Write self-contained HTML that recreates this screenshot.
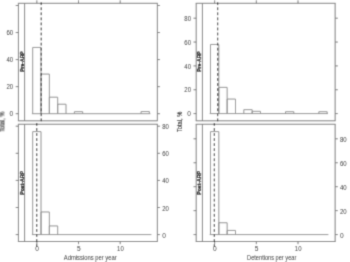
<!DOCTYPE html><html><head><meta charset="utf-8"><style>html,body{margin:0;padding:0;background:#fff;overflow:hidden;}svg{display:block;font-family:"Liberation Sans",sans-serif;}</style></head><body>
<svg width="350" height="262" viewBox="0 0 350 262">
<defs><filter id="bl" filterUnits="userSpaceOnUse" x="0" y="0" width="350" height="262"><feConvolveMatrix order="3" kernelMatrix="0.0256 0.1088 0.0256 0.1088 0.4624 0.1088 0.0256 0.1088 0.0256" divisor="1" preserveAlpha="false" edgeMode="duplicate"/></filter></defs>
<rect width="350" height="262" fill="#fff"/>
<g filter="url(#bl)">
<rect width="350" height="262" fill="#fff"/>
<line x1="17.90" y1="3.30" x2="157.85" y2="3.30" stroke="#777777" stroke-width="1.0" />
<line x1="17.90" y1="120.80" x2="157.85" y2="120.80" stroke="#777777" stroke-width="1.0" />
<line x1="18.40" y1="3.30" x2="18.40" y2="120.80" stroke="#777777" stroke-width="1.0" />
<line x1="157.35" y1="3.30" x2="157.35" y2="120.80" stroke="#777777" stroke-width="1.0" />
<line x1="24.60" y1="3.30" x2="24.60" y2="120.80" stroke="#777777" stroke-width="1.0" />
<line x1="15.70" y1="113.70" x2="18.40" y2="113.70" stroke="#777777" stroke-width="1.0" />
<line x1="157.35" y1="113.70" x2="160.05" y2="113.70" stroke="#777777" stroke-width="1.0" />
<line x1="15.70" y1="86.65" x2="18.40" y2="86.65" stroke="#777777" stroke-width="1.0" />
<line x1="157.35" y1="86.65" x2="160.05" y2="86.65" stroke="#777777" stroke-width="1.0" />
<line x1="15.70" y1="59.60" x2="18.40" y2="59.60" stroke="#777777" stroke-width="1.0" />
<line x1="157.35" y1="59.60" x2="160.05" y2="59.60" stroke="#777777" stroke-width="1.0" />
<line x1="15.70" y1="32.55" x2="18.40" y2="32.55" stroke="#777777" stroke-width="1.0" />
<line x1="157.35" y1="32.55" x2="160.05" y2="32.55" stroke="#777777" stroke-width="1.0" />
<line x1="15.70" y1="5.50" x2="18.40" y2="5.50" stroke="#777777" stroke-width="1.0" />
<line x1="157.35" y1="5.50" x2="160.05" y2="5.50" stroke="#777777" stroke-width="1.0" />
<text x="13.20" y="116.00" font-size="6.6" text-anchor="end" fill="#262626" font-weight="normal">0</text>
<text x="13.20" y="89.00" font-size="6.6" text-anchor="end" fill="#262626" font-weight="normal" textLength="6.70" lengthAdjust="spacingAndGlyphs">20</text>
<text x="13.20" y="62.00" font-size="6.6" text-anchor="end" fill="#262626" font-weight="normal" textLength="6.70" lengthAdjust="spacingAndGlyphs">40</text>
<text x="13.20" y="35.00" font-size="6.6" text-anchor="end" fill="#262626" font-weight="normal" textLength="6.70" lengthAdjust="spacingAndGlyphs">60</text>
<line x1="36.85" y1="3.30" x2="36.85" y2="0.40" stroke="#777777" stroke-width="1.0" />
<line x1="78.53" y1="3.30" x2="78.53" y2="0.40" stroke="#777777" stroke-width="1.0" />
<line x1="120.20" y1="3.30" x2="120.20" y2="0.40" stroke="#777777" stroke-width="1.0" />
<g stroke="#8e8e8e" stroke-width="1" fill="none">
<line x1="31.88" y1="113.70" x2="150.40" y2="113.70" stroke="#8e8e8e" stroke-width="1.0" />
<path d="M32.68 113.70V47.43H41.02V113.70" />
<path d="M41.02 113.70V74.07H49.35V113.70" />
<path d="M49.35 113.70V97.20H57.69V113.70" />
<path d="M57.69 113.70V104.23H66.02V113.70" />
<path d="M74.36 113.70V111.67H82.69V113.70" />
<path d="M141.04 113.70V111.54H149.37V113.70" />
</g>
<line x1="41.20" y1="2.30" x2="41.20" y2="121.30" stroke="#111111" stroke-width="1.0" stroke-dasharray="2.8 2.25" stroke-dashoffset="0"/>
<text x="24.30" y="61.55" font-size="5.0" text-anchor="middle" fill="#000" font-weight="bold" textLength="20.50" lengthAdjust="spacingAndGlyphs" stroke="#000" stroke-width="0.25" transform="rotate(-90 24.30 61.55)">Pre-ARP</text>
<line x1="17.90" y1="124.26" x2="157.85" y2="124.26" stroke="#777777" stroke-width="1.0" />
<line x1="17.90" y1="241.50" x2="157.85" y2="241.50" stroke="#777777" stroke-width="1.0" />
<line x1="18.40" y1="124.26" x2="18.40" y2="241.50" stroke="#777777" stroke-width="1.0" />
<line x1="157.35" y1="124.26" x2="157.35" y2="241.50" stroke="#777777" stroke-width="1.0" />
<line x1="24.60" y1="124.26" x2="24.60" y2="241.50" stroke="#777777" stroke-width="1.0" />
<line x1="15.70" y1="234.60" x2="18.40" y2="234.60" stroke="#777777" stroke-width="1.0" />
<line x1="157.35" y1="234.60" x2="160.05" y2="234.60" stroke="#777777" stroke-width="1.0" />
<line x1="15.70" y1="207.50" x2="18.40" y2="207.50" stroke="#777777" stroke-width="1.0" />
<line x1="157.35" y1="207.50" x2="160.05" y2="207.50" stroke="#777777" stroke-width="1.0" />
<line x1="15.70" y1="180.40" x2="18.40" y2="180.40" stroke="#777777" stroke-width="1.0" />
<line x1="157.35" y1="180.40" x2="160.05" y2="180.40" stroke="#777777" stroke-width="1.0" />
<line x1="15.70" y1="153.30" x2="18.40" y2="153.30" stroke="#777777" stroke-width="1.0" />
<line x1="157.35" y1="153.30" x2="160.05" y2="153.30" stroke="#777777" stroke-width="1.0" />
<line x1="15.70" y1="126.20" x2="18.40" y2="126.20" stroke="#777777" stroke-width="1.0" />
<line x1="157.35" y1="126.20" x2="160.05" y2="126.20" stroke="#777777" stroke-width="1.0" />
<text x="162.15" y="238.00" font-size="6.6" text-anchor="start" fill="#262626" font-weight="normal">0</text>
<text x="162.15" y="211.00" font-size="6.6" text-anchor="start" fill="#262626" font-weight="normal" textLength="6.70" lengthAdjust="spacingAndGlyphs">20</text>
<text x="162.15" y="183.00" font-size="6.6" text-anchor="start" fill="#262626" font-weight="normal" textLength="6.70" lengthAdjust="spacingAndGlyphs">40</text>
<text x="162.15" y="156.00" font-size="6.6" text-anchor="start" fill="#262626" font-weight="normal" textLength="6.70" lengthAdjust="spacingAndGlyphs">60</text>
<text x="162.15" y="129.00" font-size="6.6" text-anchor="start" fill="#262626" font-weight="normal" textLength="6.70" lengthAdjust="spacingAndGlyphs">80</text>
<line x1="36.85" y1="241.50" x2="36.85" y2="244.20" stroke="#777777" stroke-width="1.0" />
<line x1="78.53" y1="241.50" x2="78.53" y2="244.20" stroke="#777777" stroke-width="1.0" />
<line x1="120.20" y1="241.50" x2="120.20" y2="244.20" stroke="#777777" stroke-width="1.0" />
<text x="37.05" y="250.60" font-size="6.6" text-anchor="middle" fill="#262626" font-weight="normal">0</text>
<text x="78.73" y="250.60" font-size="6.6" text-anchor="middle" fill="#262626" font-weight="normal">5</text>
<text x="120.40" y="250.60" font-size="6.6" text-anchor="middle" fill="#262626" font-weight="normal" textLength="6.70" lengthAdjust="spacingAndGlyphs">10</text>
<g stroke="#8e8e8e" stroke-width="1" fill="none">
<line x1="31.88" y1="234.60" x2="151.40" y2="234.60" stroke="#8e8e8e" stroke-width="1.0" />
<path d="M32.68 234.60V131.62H41.02V234.60" />
<path d="M41.02 234.60V211.97H49.35V234.60" />
<path d="M49.35 234.60V225.93H57.69V234.60" />
</g>
<line x1="36.75" y1="123.00" x2="36.75" y2="247.50" stroke="#111111" stroke-width="1.0" stroke-dasharray="2.8 2.25" stroke-dashoffset="0"/>
<text x="24.30" y="182.88" font-size="5.0" text-anchor="middle" fill="#000" font-weight="bold" textLength="23.70" lengthAdjust="spacingAndGlyphs" stroke="#000" stroke-width="0.25" transform="rotate(-90 24.30 182.88)">Post-ARP</text>
<text x="63.80" y="259.80" font-size="6.3" text-anchor="start" fill="#262626" font-weight="normal" textLength="52.80" lengthAdjust="spacingAndGlyphs">Admissions per year</text>
<text x="4.40" y="121.90" font-size="6.6" text-anchor="middle" fill="#1a1a1a" font-weight="normal" textLength="20.30" lengthAdjust="spacingAndGlyphs" stroke="#1a1a1a" stroke-width="0.15" transform="rotate(-90 4.40 121.90)">Total, %</text>
<line x1="195.70" y1="3.30" x2="335.65" y2="3.30" stroke="#777777" stroke-width="1.0" />
<line x1="195.70" y1="120.80" x2="335.65" y2="120.80" stroke="#777777" stroke-width="1.0" />
<line x1="196.20" y1="3.30" x2="196.20" y2="120.80" stroke="#777777" stroke-width="1.0" />
<line x1="335.15" y1="3.30" x2="335.15" y2="120.80" stroke="#777777" stroke-width="1.0" />
<line x1="202.40" y1="3.30" x2="202.40" y2="120.80" stroke="#777777" stroke-width="1.0" />
<line x1="193.50" y1="113.60" x2="196.20" y2="113.60" stroke="#777777" stroke-width="1.0" />
<line x1="335.15" y1="113.60" x2="337.85" y2="113.60" stroke="#777777" stroke-width="1.0" />
<line x1="193.50" y1="89.75" x2="196.20" y2="89.75" stroke="#777777" stroke-width="1.0" />
<line x1="335.15" y1="89.75" x2="337.85" y2="89.75" stroke="#777777" stroke-width="1.0" />
<line x1="193.50" y1="65.90" x2="196.20" y2="65.90" stroke="#777777" stroke-width="1.0" />
<line x1="335.15" y1="65.90" x2="337.85" y2="65.90" stroke="#777777" stroke-width="1.0" />
<line x1="193.50" y1="42.05" x2="196.20" y2="42.05" stroke="#777777" stroke-width="1.0" />
<line x1="335.15" y1="42.05" x2="337.85" y2="42.05" stroke="#777777" stroke-width="1.0" />
<line x1="193.50" y1="18.20" x2="196.20" y2="18.20" stroke="#777777" stroke-width="1.0" />
<line x1="335.15" y1="18.20" x2="337.85" y2="18.20" stroke="#777777" stroke-width="1.0" />
<text x="191.00" y="116.00" font-size="6.6" text-anchor="end" fill="#262626" font-weight="normal">0</text>
<text x="191.00" y="92.00" font-size="6.6" text-anchor="end" fill="#262626" font-weight="normal" textLength="6.70" lengthAdjust="spacingAndGlyphs">20</text>
<text x="191.00" y="69.00" font-size="6.6" text-anchor="end" fill="#262626" font-weight="normal" textLength="6.70" lengthAdjust="spacingAndGlyphs">40</text>
<text x="191.00" y="45.00" font-size="6.6" text-anchor="end" fill="#262626" font-weight="normal" textLength="6.70" lengthAdjust="spacingAndGlyphs">60</text>
<text x="191.00" y="21.00" font-size="6.6" text-anchor="end" fill="#262626" font-weight="normal" textLength="6.70" lengthAdjust="spacingAndGlyphs">80</text>
<line x1="214.65" y1="3.30" x2="214.65" y2="0.40" stroke="#777777" stroke-width="1.0" />
<line x1="256.32" y1="3.30" x2="256.32" y2="0.40" stroke="#777777" stroke-width="1.0" />
<line x1="298.00" y1="3.30" x2="298.00" y2="0.40" stroke="#777777" stroke-width="1.0" />
<g stroke="#8e8e8e" stroke-width="1" fill="none">
<line x1="209.68" y1="113.60" x2="328.00" y2="113.60" stroke="#8e8e8e" stroke-width="1.0" />
<path d="M210.48 113.60V44.44H218.82V113.60" />
<path d="M218.82 113.60V87.36H227.15V113.60" />
<path d="M227.15 113.60V99.05H235.49V113.60" />
<path d="M243.82 113.60V109.66H252.16V113.60" />
<path d="M252.16 113.60V111.33H260.49V113.60" />
<path d="M285.50 113.60V111.69H293.83V113.60" />
<path d="M318.84 113.60V111.69H327.17V113.60" />
</g>
<line x1="217.70" y1="2.30" x2="217.70" y2="121.30" stroke="#111111" stroke-width="1.0" stroke-dasharray="2.8 2.25" stroke-dashoffset="0"/>
<text x="201.40" y="61.55" font-size="5.0" text-anchor="middle" fill="#000" font-weight="bold" textLength="20.50" lengthAdjust="spacingAndGlyphs" stroke="#000" stroke-width="0.25" transform="rotate(-90 201.40 61.55)">Pre-ARP</text>
<line x1="195.70" y1="124.26" x2="335.65" y2="124.26" stroke="#777777" stroke-width="1.0" />
<line x1="195.70" y1="241.50" x2="335.65" y2="241.50" stroke="#777777" stroke-width="1.0" />
<line x1="196.20" y1="124.26" x2="196.20" y2="241.50" stroke="#777777" stroke-width="1.0" />
<line x1="335.15" y1="124.26" x2="335.15" y2="241.50" stroke="#777777" stroke-width="1.0" />
<line x1="202.40" y1="124.26" x2="202.40" y2="241.50" stroke="#777777" stroke-width="1.0" />
<line x1="193.50" y1="234.60" x2="196.20" y2="234.60" stroke="#777777" stroke-width="1.0" />
<line x1="335.15" y1="234.60" x2="337.85" y2="234.60" stroke="#777777" stroke-width="1.0" />
<line x1="193.50" y1="210.65" x2="196.20" y2="210.65" stroke="#777777" stroke-width="1.0" />
<line x1="335.15" y1="210.65" x2="337.85" y2="210.65" stroke="#777777" stroke-width="1.0" />
<line x1="193.50" y1="186.70" x2="196.20" y2="186.70" stroke="#777777" stroke-width="1.0" />
<line x1="335.15" y1="186.70" x2="337.85" y2="186.70" stroke="#777777" stroke-width="1.0" />
<line x1="193.50" y1="162.75" x2="196.20" y2="162.75" stroke="#777777" stroke-width="1.0" />
<line x1="335.15" y1="162.75" x2="337.85" y2="162.75" stroke="#777777" stroke-width="1.0" />
<line x1="193.50" y1="138.80" x2="196.20" y2="138.80" stroke="#777777" stroke-width="1.0" />
<line x1="335.15" y1="138.80" x2="337.85" y2="138.80" stroke="#777777" stroke-width="1.0" />
<text x="339.95" y="238.00" font-size="6.6" text-anchor="start" fill="#262626" font-weight="normal">0</text>
<text x="339.95" y="214.00" font-size="6.6" text-anchor="start" fill="#262626" font-weight="normal" textLength="6.70" lengthAdjust="spacingAndGlyphs">20</text>
<text x="339.95" y="190.00" font-size="6.6" text-anchor="start" fill="#262626" font-weight="normal" textLength="6.70" lengthAdjust="spacingAndGlyphs">40</text>
<text x="339.95" y="166.00" font-size="6.6" text-anchor="start" fill="#262626" font-weight="normal" textLength="6.70" lengthAdjust="spacingAndGlyphs">60</text>
<text x="339.95" y="142.00" font-size="6.6" text-anchor="start" fill="#262626" font-weight="normal" textLength="6.70" lengthAdjust="spacingAndGlyphs">80</text>
<line x1="214.65" y1="241.50" x2="214.65" y2="244.20" stroke="#777777" stroke-width="1.0" />
<line x1="256.32" y1="241.50" x2="256.32" y2="244.20" stroke="#777777" stroke-width="1.0" />
<line x1="298.00" y1="241.50" x2="298.00" y2="244.20" stroke="#777777" stroke-width="1.0" />
<text x="214.85" y="250.60" font-size="6.6" text-anchor="middle" fill="#262626" font-weight="normal">0</text>
<text x="256.52" y="250.60" font-size="6.6" text-anchor="middle" fill="#262626" font-weight="normal">5</text>
<text x="298.20" y="250.60" font-size="6.6" text-anchor="middle" fill="#262626" font-weight="normal" textLength="6.70" lengthAdjust="spacingAndGlyphs">10</text>
<g stroke="#8e8e8e" stroke-width="1" fill="none">
<line x1="209.68" y1="234.60" x2="328.40" y2="234.60" stroke="#8e8e8e" stroke-width="1.0" />
<path d="M210.48 234.60V131.62H218.82V234.60" />
<path d="M218.82 234.60V222.74H227.15V234.60" />
<path d="M227.15 234.60V230.41H235.49V234.60" />
</g>
<line x1="214.30" y1="123.00" x2="214.30" y2="247.50" stroke="#111111" stroke-width="1.0" stroke-dasharray="2.8 2.25" stroke-dashoffset="0"/>
<text x="201.40" y="182.88" font-size="5.0" text-anchor="middle" fill="#000" font-weight="bold" textLength="23.70" lengthAdjust="spacingAndGlyphs" stroke="#000" stroke-width="0.25" transform="rotate(-90 201.40 182.88)">Post-ARP</text>
<text x="247.10" y="259.80" font-size="6.3" text-anchor="start" fill="#262626" font-weight="normal" textLength="49.20" lengthAdjust="spacingAndGlyphs">Detentions per year</text>
<text x="182.20" y="121.90" font-size="6.6" text-anchor="middle" fill="#1a1a1a" font-weight="normal" textLength="20.30" lengthAdjust="spacingAndGlyphs" stroke="#1a1a1a" stroke-width="0.15" transform="rotate(-90 182.20 121.90)">Total, %</text>
</g>
</svg></body></html>
